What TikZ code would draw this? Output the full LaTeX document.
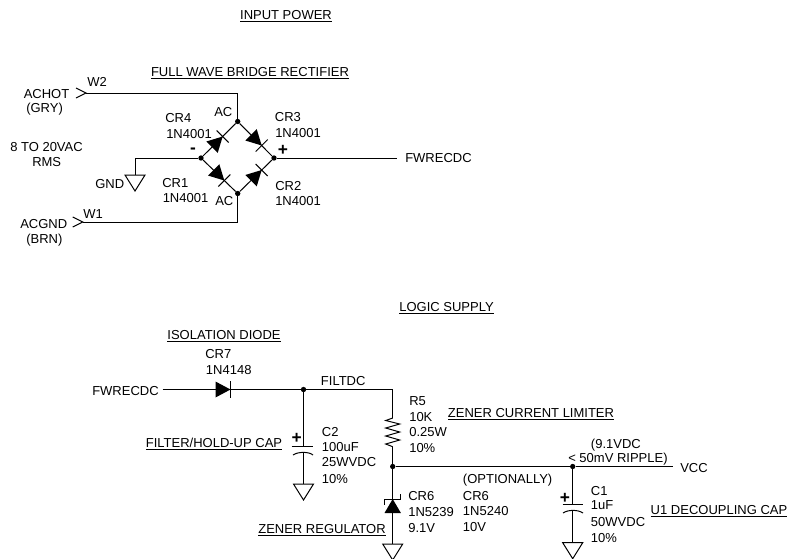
\documentclass[tikz,border=0pt]{standalone}
\usepackage{fontspec}
\setmainfont{Liberation Sans}
\begin{document}
\begin{tikzpicture}[x=0.75pt,y=-0.75pt,
  wire/.style={line width=0.75pt,line join=miter},
  lab/.style={anchor=base west,inner sep=0pt,font=\fontsize{9.75}{11}\selectfont},
  ttl/.style={anchor=base,inner sep=0pt,font=\fontsize{9.75}{11}\selectfont},
  sgn/.style={anchor=center,inner sep=0pt,font=\fontsize{13}{14}\selectfont\bfseries},
  dot/.style={circle,fill=black,inner sep=0pt,minimum size=4pt},
  diodesym/.pic={\fill (-15,-8)--(0,0)--(-15,8)--cycle; \draw[wire] (0,-8.5)--(0,8.5);},
  gndsym/.pic={\draw[wire,line join=miter] (-10,0)--(10,0)--(0,16)--cycle;},
  consym/.pic={\draw[wire] (-10,-5)--(0,0)--(-10,5);}
]
\useasboundingbox (0,0) rectangle (788,558);
% bridge nodes
\node[dot] (top) at (237.7,121.5) {};
\node[dot] (left) at (201,158) {};
\node[dot] (right) at (274,158) {};
\node[dot] (bot) at (237.7,193.5) {};
\coordinate (w2a) at (86,93); \coordinate (w2b) at (237.7,93);
\coordinate (w1a) at (82.7,222); \coordinate (w1b) at (237.7,222);
\coordinate (g1) at (135,158); \coordinate (g2) at (135,175);
\coordinate (rout) at (397,158);
\draw[wire] (w2a)--(w2b)--(top);
\draw[wire] (w1a)--(w1b)--(bot);
\draw[wire] (top)--(left)--(bot)--(right)--(top);
\draw[wire] (left)--(g1)--(g2);
\draw[wire] (right)--(rout);
\pic at (w2a) {consym};
\pic at (w1a) {consym};
\pic at (g2) {gndsym};
\pic[rotate=45] at (222.7,136.5) {diodesym};
\pic[rotate=-45] at (261.7,145.5) {diodesym};
\pic[rotate=-45] at (224.3,180.5) {diodesym};
\pic[rotate=45] at (261.7,170) {diodesym};
% logic supply nodes
\coordinate (fwin) at (162.7,389.5);
\coordinate (cr7) at (230.5,389.5);
\node[dot] (filt) at (303.5,389.5) {};
\coordinate (filtr) at (392.7,389.5);
\coordinate (c2p) at (303.5,446);
\coordinate (c2n) at (303.5,452.5);
\coordinate (c2g) at (303.5,484);
\coordinate (r1) at (392.7,418);
\coordinate (r2) at (392.7,446.7);
\node[dot] (vz) at (392.7,466.5) {};
\coordinate (zb) at (392.7,499);
\coordinate (zg) at (392.7,544);
\node[dot] (vc) at (572.7,466.5) {};
\coordinate (vend) at (673,466.5);
\coordinate (c1p) at (572.7,504);
\coordinate (c1n) at (572.7,510.5);
\coordinate (c1g) at (572.7,542.7);
\draw[wire] (fwin)--(filt)--(filtr)--(r1);
\draw[wire] (r1)--(385.7,420.5)--(399.7,424)--(385.7,428)--(399.7,432)--(385.7,436)--(399.7,440)--(385.7,444)--(r2);
\draw[wire] (r2)--(vz)--(zg);
\draw[wire] (vz)--(vc)--(vend);
\draw[wire] (filt)--(c2p);
\draw[wire] (291.7,446)--(312.7,446);
\draw[wire] (293,455) .. controls (298,451.5) and (309,451.5) .. (313,455);
\draw[wire] (c2n)--(c2g);
\pic at (c2g) {gndsym};
\draw[wire] (vc)--(c1p);
\draw[wire] (562.7,504)--(582.7,504);
\draw[wire] (563,513) .. controls (568,509.5) and (578,509.5) .. (583,513);
\draw[wire] (c1n)--(c1g);
\pic at (zg) {gndsym};
\pic at (c1g) {gndsym};
\pic at (cr7) {diodesym};
% zener
\fill (384.5,513)--(392.7,499)--(400.9,513)--cycle;
\draw[wire] (384.5,504.5)--(384.5,499)--(400.9,499)--(400.9,493.5);
% texts
\node[ttl] (t1) at (286,19.5) {\underline{INPUT POWER}};
\node[ttl] (t2) at (250,76) {\underline{FULL WAVE BRIDGE RECTIFIER}};
\node[ttl] (t3) at (446.5,311) {\underline{LOGIC SUPPLY}};
\node[ttl] (t4) at (224,339.3) {\underline{ISOLATION DIODE}};
\node[ttl] (t5) at (214,447) {\underline{FILTER/HOLD-UP CAP}};
\node[ttl] (t6) at (322,533) {\underline{ZENER REGULATOR}};
\node[ttl] (t7) at (531,417.7) {\underline{ZENER CURRENT LIMITER}};
\node[ttl] (t8) at (719,514) {\underline{U1 DECOUPLING CAP}};
\node[lab] (a1) at (23.5,98) {ACHOT};
\node[lab] (a2) at (26,112) {(GRY)};
\node[lab] (a3) at (10,151.7) {8 TO 20VAC};
\node[lab] (a4) at (32,166.7) {RMS};
\node[lab] (a5) at (95,188) {GND};
\node[lab] (a6) at (20,228) {ACGND};
\node[lab] (a7) at (26,243) {(BRN)};
\node[lab] (w2) at (87,86.7) {W2};
\node[lab] (w1) at (83,218) {W1};
\node[lab] (b1) at (165,122.7) {CR4};
\node[lab] (b2) at (166,138.7) {1N4001};
\node[lab] (b3) at (214,116) {AC};
\node[lab] (b4) at (162,187) {CR1};
\node[lab] (b5) at (162.5,202) {1N4001};
\node[lab] (b6) at (215,205) {AC};
\node[lab] (b7) at (274.7,121) {CR3};
\node[lab] (b8) at (275,137) {1N4001};
\node[lab] (b9) at (275,190) {CR2};
\node[lab] (b10) at (275,205) {1N4001};
\node[sgn] (minus) at (193,150.5) {-};
\node[sgn] (plus) at (283,150) {+};
\node[lab] (f1) at (405,162.7) {FWRECDC};
\node[lab] (c1) at (205,358) {CR7};
\node[lab] (c2) at (205.7,374) {1N4148};
\node[lab] (c3) at (92,395) {FWRECDC};
\node[lab] (c4) at (320.7,385) {FILTDC};
\node[lab] (c5) at (321.7,436) {C2};
\node[lab] (c6) at (321.7,451.7) {100uF};
\node[lab] (c7) at (321.7,466.7) {25WVDC};
\node[lab] (c8) at (321.7,483) {10\%};
\node[sgn] (c2plus) at (296.7,438.7) {+};
\node[lab] (r5) at (409,405) {R5};
\node[lab] (r6) at (409,421) {10K};
\node[lab] (r7) at (409,436.7) {0.25W};
\node[lab] (r8) at (409,452.3) {10\%};
\node[lab] (z1) at (408,500) {CR6};
\node[lab] (z2) at (408,516) {1N5239};
\node[lab] (z3) at (408,532) {9.1V};
\node[lab] (o1) at (462.7,483) {(OPTIONALLY)};
\node[lab] (o2) at (462.7,500) {CR6};
\node[lab] (o3) at (462.7,515) {1N5240};
\node[lab] (o4) at (462.7,531) {10V};
\node[lab] (v1) at (590.7,448) {(9.1VDC};
\node[lab] (v2) at (568,462.7) {< 50mV RIPPLE)};
\node[lab] (v3) at (680,472.7) {VCC};
\node[lab] (d1) at (590.7,495) {C1};
\node[lab] (d2) at (590.7,509) {1uF};
\node[lab] (d3) at (590.7,526) {50WVDC};
\node[lab] (d4) at (590.7,542.7) {10\%};
\node[sgn] (c1plus) at (565,498) {+};
\end{tikzpicture}
\end{document}
